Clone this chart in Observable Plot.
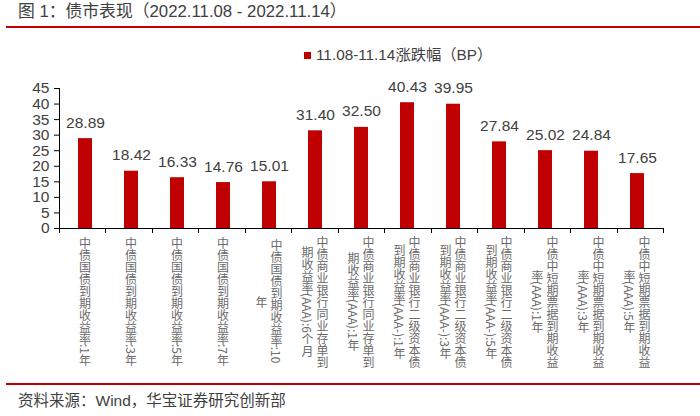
<!DOCTYPE html>
<html>
<head>
<meta charset="utf-8">
<script src="https://cdn.jsdelivr.net/npm/d3@7"></script>
<script src="https://cdn.jsdelivr.net/npm/@observablehq/plot@0.6"></script>
<style>
  html, body { margin: 0; padding: 0; background: #fff; }
  #wrap { position: relative; width: 700px; height: 416px; overflow: hidden; font-family: "Liberation Sans", "Noto Sans CJK SC", sans-serif; }
  #title { position: absolute; left: 18px; top: 2px; font-size: 16.8px; color: #404040; white-space: nowrap; line-height: 20px; }
  .redline { position: absolute; left: 6px; right: 0; height: 2px; background: #C00000; }
  #legend { position: absolute; left: 304px; top: 46px; font-size: 15.3px; color: #404040; line-height: 18px; white-space: nowrap; }
  #legend .sw { display: inline-block; width: 7px; height: 7px; background: #C00000; margin-right: 5px; vertical-align: 1px; }
  #chart { position: absolute; left: 0; top: 30px; }
  #footer { position: absolute; left: 18px; top: 391px; font-size: 15.5px; color: #404040; white-space: nowrap; line-height: 20px; }
</style>
</head>
<body>
<div id="wrap">
  <div id="title">图 1：债市表现（2022.11.08 - 2022.11.14）</div>
  <div class="redline" style="top:26px"></div>
  <div id="legend"><span class="sw"></span><span id="lt"></span></div>
  <div id="chart"></div>
  <div class="redline" style="top:383px"></div>
  <div id="footer">资料来源：Wind，华宝证券研究创新部</div>
</div>
<script>
const categories = [
  "中债国债到期收益率:1年",
  "中债国债到期收益率:3年",
  "中债国债到期收益率:5年",
  "中债国债到期收益率:7年",
  "中债国债到期收益率:10年",
  "中债商业银行同业存单到期收益率(AAA):6个月",
  "中债商业银行同业存单到期收益率(AAA):1年",
  "中债商业银行二级资本债到期收益率(AAA-):1年",
  "中债商业银行二级资本债到期收益率(AAA-):3年",
  "中债商业银行二级资本债到期收益率(AAA-):5年",
  "中债中短期票据到期收益率(AAA):1年",
  "中债中短期票据到期收益率(AAA):3年",
  "中债中短期票据到期收益率(AAA):5年"
];
const values = [28.89, 18.42, 16.33, 14.76, 15.01, 31.40, 32.50, 40.43, 39.95, 27.84, 25.02, 24.84, 17.65];
// tick label columns (vertical text, first column on the right)
const labelCol1 = [
  "中债国债到期收益率:1年",
  "中债国债到期收益率:3年",
  "中债国债到期收益率:5年",
  "中债国债到期收益率:7年",
  "中债国债到期收益率:10",
  "中债商业银行同业存单到",
  "中债商业银行同业存单到",
  "中债商业银行二级资本债",
  "中债商业银行二级资本债",
  "中债商业银行二级资本债",
  "中债中短期票据到期收益",
  "中债中短期票据到期收益",
  "中债中短期票据到期收益"
];
const labelCol2 = [
  "", "", "", "",
  "年",
  "期收益率(AAA):6个月",
  "期收益率(AAA):1年",
  "到期收益率(AAA-):1年",
  "到期收益率(AAA-):3年",
  "到期收益率(AAA-):5年",
  "率(AAA):1年",
  "率(AAA):3年",
  "率(AAA):5年"
];
const yTicks = [0, 5, 10, 15, 20, 25, 30, 35, 40, 45];
const seriesName = "11.08-11.14涨跌幅（BP）";

const data = categories.map((c, i) => ({cat: c, value: values[i]}));

const W = 700, H = 350, mL = 59, mR = 37, mT = 58, mB = 152;
const labelFont = "Noto Sans CJK SC";
const labelSize = 12;
const labelColor = "#6a6a6a";

const measureCtx = document.createElement("canvas").getContext("2d");
measureCtx.font = `${labelSize}px "${labelFont}"`;

// split a column string into units: runs of ASCII are laid sideways, other glyphs upright
function splitUnits(str) {
  const units = [];
  let run = "";
  for (const ch of str) {
    if (ch.charCodeAt(0) < 128) { run += ch; }
    else {
      if (run) { units.push({t: run, side: true}); run = ""; }
      units.push({t: ch, side: false});
    }
  }
  if (run) units.push({t: run, side: true});
  return units.map(u => ({...u, len: u.side ? measureCtx.measureText(u.t).width : labelSize}));
}

function axisLines(index, scales, values, dims) {
  const g = d3.create("svg:g").attr("stroke", "#000").attr("stroke-width", 1);
  const x0 = dims.marginLeft, x1 = dims.width - dims.marginRight;
  const y0 = dims.height - dims.marginBottom, yTop = dims.marginTop;
  g.append("line").attr("x1", x0 + 0.5).attr("x2", x0 + 0.5).attr("y1", yTop).attr("y2", y0);
  g.append("line").attr("x1", x0).attr("x2", x1).attr("y1", y0 + 0.5).attr("y2", y0 + 0.5);
  const step = (x1 - x0) / categories.length;
  for (let i = 0; i <= categories.length; i++) {
    const px = Math.round(x0 + i * step) + 0.5;
    g.append("line").attr("x1", px).attr("x2", px).attr("y1", y0).attr("y2", y0 + 5);
  }
  return g.node();
}

function verticalLabels(index, scales, values, dims) {
  const x = scales.x;
  const bw = typeof x.bandwidth === "function" ? x.bandwidth() : (x.bandwidth || 0);
  const cy = dims.height - dims.marginBottom + 73;
  const g = d3.create("svg:g")
    .attr("font-family", labelFont).attr("font-size", labelSize).attr("fill", labelColor);
  categories.forEach((c, i) => {
    const center = x(c) + bw / 2;
    const cols = labelCol2[i] ? [[labelCol1[i], center + 7.5], [labelCol2[i], center - 7.5]] : [[labelCol1[i], center]];
    for (const [str, cx] of cols) {
      const units = splitUnits(str);
      const total = d3.sum(units, u => u.len);
      let cur = cy - total / 2;
      for (const u of units) {
        if (u.side) {
          g.append("text").attr("transform", `translate(${cx},${cur}) rotate(90)`)
            .attr("dominant-baseline", "central").attr("text-anchor", "start").text(u.t);
        } else {
          g.append("text").attr("x", cx).attr("y", cur + u.len / 2)
            .attr("dominant-baseline", "central").attr("text-anchor", "middle").text(u.t);
        }
        cur += u.len;
      }
    }
  });
  return g.node();
}

const plot = Plot.plot({
  width: W, height: H,
  marginLeft: mL, marginRight: mR, marginTop: mT, marginBottom: mB,
  style: {fontFamily: "Liberation Sans, Noto Sans CJK SC, sans-serif", fontSize: "15px", color: "#000", background: "transparent", overflow: "visible"},
  x: {domain: categories, paddingInner: 0.69, paddingOuter: 0.345, axis: null},
  y: {domain: [0, 45], axis: null},
  marks: [
    Plot.barY(data, {x: "cat", y: "value", fill: "#C00000"}),
    Plot.axisY({ticks: yTicks, tickSize: 5, tickPadding: 5, stroke: "#000", fill: "#404040", fontSize: 15.5, label: null}),
    axisLines,
    Plot.text(data, {x: "cat", y: "value", text: d => d.value.toFixed(2), dy: -16, fontSize: 15.5, fill: "#404040"}),
    verticalLabels
  ]
});
document.getElementById("chart").appendChild(plot);
document.getElementById("lt").textContent = seriesName;
</script>
</body>
</html>
